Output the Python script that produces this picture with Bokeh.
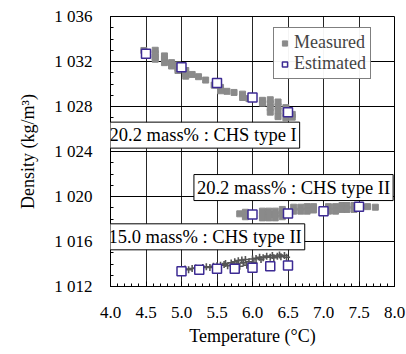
from bokeh.plotting import figure
from bokeh.models import FixedTicker, Label, Legend, LegendItem, Range1d, CustomJSTickFormatter
from bokeh.embed import file_html
from bokeh.resources import INLINE

# ---- data ----
x_ticks = [4.0, 4.5, 5.0, 5.5, 6.0, 6.5, 7.0, 7.5, 8.0]
y_ticks = [1012, 1016, 1020, 1024, 1028, 1032, 1036]
y_tick_labels = ["1 012", "1 016", "1 020", "1 024", "1 028", "1 032", "1 036"]

# 20.2 mass% CHS type I - measured
m1_x = [4.47, 4.49, 4.63, 4.63, 4.63, 4.63, 4.76, 4.76, 4.76, 4.86, 4.86, 4.95, 4.95, 4.95,
        5.06, 5.06, 5.06, 5.15, 5.24, 5.34, 5.46, 5.55, 5.55, 5.64, 5.74, 5.86, 5.86, 5.95,
        6.14, 6.14, 6.25, 6.25, 6.25, 6.25, 6.36, 6.36, 6.36, 6.36, 6.47, 6.47, 6.47, 6.56, 6.56]
m1_y = [1032.98, 1032.68, 1033.0, 1032.7, 1032.4, 1032.2, 1032.5, 1032.2, 1031.9, 1031.9, 1031.6,
        1031.7, 1031.4, 1031.2, 1031.2, 1030.9, 1030.7, 1030.85, 1030.65, 1030.35, 1029.9, 1029.7,
        1029.4, 1029.35, 1029.25, 1029.1, 1028.8, 1028.7, 1028.55, 1028.3, 1028.6, 1028.25, 1027.9,
        1027.5, 1028.4, 1028.0, 1027.6, 1027.1, 1027.9, 1027.4, 1027.0, 1027.3, 1027.05]
# 20.2 mass% CHS type I - estimated
e1_x = [4.5, 5.0, 5.5, 6.0, 6.5]
e1_y = [1032.7, 1031.5, 1030.1, 1028.8, 1027.5]

# 20.2 mass% CHS type II - measured
m2_x = [5.82, 5.90, 5.90, 6.14, 6.14, 6.14, 6.23, 6.23, 6.23, 6.32, 6.32, 6.32, 6.42, 6.42, 6.42,
        6.58, 6.58, 6.68, 6.68, 6.77, 6.77, 6.86, 6.86, 7.07, 7.07, 7.17, 7.17, 7.26, 7.26,
        7.33, 7.33, 7.43, 7.43, 7.62, 7.73]
m2_y = [1018.46, 1018.6, 1018.2, 1018.7, 1018.4, 1018.1, 1018.7, 1018.4, 1018.1, 1018.7, 1018.4,
        1018.1, 1018.85, 1018.5, 1018.2, 1019.05, 1018.7, 1019.05, 1018.7, 1019.1, 1018.7, 1019.1,
        1018.8, 1019.1, 1018.7, 1019.1, 1018.7, 1019.2, 1018.85, 1019.2, 1018.85, 1019.2, 1018.85,
        1019.1, 1019.05]
# 20.2 mass% CHS type II - estimated
e2_x = [6.0, 6.5, 7.0, 7.5]
e2_y = [1018.4, 1018.5, 1018.7, 1019.1]

# 15.0 mass% CHS type II - measured
m3_x = [5.0, 5.05, 5.1, 5.15, 5.2, 5.25, 5.3, 5.35, 5.4, 5.45, 5.5, 5.55, 5.6, 5.62, 5.65, 5.7,
        5.72, 5.75, 5.78, 5.8, 5.82, 5.85, 5.87, 5.9, 5.92, 5.95, 6.0, 6.02, 6.05, 6.1, 6.12,
        6.15, 6.2, 6.25, 6.28, 6.3, 6.35, 6.38, 6.4, 6.45, 6.48]
m3_y = [1013.5, 1013.55, 1013.5, 1013.6, 1013.65, 1013.6, 1013.7, 1013.75, 1013.7, 1013.8,
        1013.85, 1013.9, 1013.95, 1014.05, 1013.85, 1014.1, 1013.9, 1014.2, 1014.0, 1014.3,
        1013.8, 1014.35, 1014.1, 1014.4, 1013.9, 1014.2, 1014.45, 1014.1, 1014.5, 1014.6,
        1014.4, 1014.55, 1014.7, 1014.6, 1014.75, 1014.55, 1014.7, 1014.8, 1014.65, 1014.75, 1014.6]
# 15.0 mass% CHS type II - estimated
e3_x = [5.0, 5.25, 5.5, 5.75, 6.0, 6.25, 6.5]
e3_y = [1013.36, 1013.48, 1013.57, 1013.57, 1013.66, 1013.81, 1013.87]

labels = ["20.2 mass% : CHS type I", "20.2 mass% : CHS type II", "15.0 mass% : CHS type II"]
label_x = [3.945, 5.175, 3.93]
label_y = [1024.3, 1019.64, 1015.26]

FONT = "Liberation Serif"
EST_COLOR = "#3d2b94"

p = figure(width=406, height=348, output_backend="svg", toolbar_location=None,
           x_range=Range1d(4.0, 8.0), y_range=Range1d(1012, 1036),
           min_border_left=110, min_border_right=12, min_border_top=16, min_border_bottom=62)
p.outline_line_color = "black"
p.outline_line_width = 1
p.background_fill_color = "white"

p.xaxis.ticker = FixedTicker(ticks=x_ticks, minor_ticks=[4.0 + 0.1 * i for i in range(41)])
p.yaxis.ticker = FixedTicker(ticks=y_ticks, minor_ticks=list(range(1012, 1037)))
p.yaxis.major_label_overrides = {t: s for t, s in zip(y_ticks, y_tick_labels)}
p.xaxis.formatter = CustomJSTickFormatter(code="return tick.toFixed(1);")

for ax in (p.xaxis[0], p.yaxis[0]):
    ax.axis_line_color = "black"
    ax.major_tick_in = 5
    ax.major_tick_out = 0
    ax.minor_tick_in = 3
    ax.minor_tick_out = 0
    ax.major_tick_line_color = "black"
    ax.minor_tick_line_color = "black"
    ax.major_label_text_font = FONT
    ax.major_label_text_font_size = "17px"
    ax.major_label_text_color = "black"
    ax.axis_label_text_font = FONT
    ax.axis_label_text_font_size = "18px"
    ax.axis_label_text_font_style = "normal"
    ax.axis_label_text_color = "black"

p.xaxis.axis_label = "Temperature (°C)"
p.yaxis.axis_label = "Density (kg/m³)"
p.xaxis.major_label_standoff = 20
p.xaxis.axis_label_standoff = 5
p.yaxis.major_label_standoff = 18
p.yaxis.axis_label_standoff = 13

p.xgrid.grid_line_color = "black"
p.ygrid.grid_line_color = "black"
p.xgrid.grid_line_alpha = 0.85
p.ygrid.grid_line_alpha = 1.0

GRAY = "#8a8a8a"
r_m1 = p.scatter(m1_x, m1_y, marker="square", size=6, fill_color=GRAY, line_color=GRAY)
p.scatter(m2_x, m2_y, marker="square", size=6, fill_color=GRAY, line_color=GRAY)
p.scatter(m3_x, m3_y, marker="cross", size=7, line_color="#555555", line_width=1.6)

r_e1 = None
for ex, ey in ((e1_x, e1_y), (e2_x, e2_y), (e3_x, e3_y)):
    r = p.scatter(ex, ey, marker="square", size=9, fill_color="white",
                  line_color=EST_COLOR, line_width=1.5)
    if r_e1 is None:
        r_e1 = r

for t, lx, ly in zip(labels, label_x, label_y):
    p.add_layout(Label(x=lx, y=ly, text=t, text_font=FONT, text_font_size="18.5px",
                       text_color="black", border_line_color="black", border_line_width=1,
                       background_fill_color="white", padding=3))

legend = Legend(items=[LegendItem(label="Measured", renderers=[r_m1]),
                       LegendItem(label="Estimated", renderers=[r_e1])],
                location=(163, 207))
legend.label_text_font = FONT
legend.label_text_font_size = "18px"
legend.border_line_color = "black"
legend.border_line_width = 1
legend.glyph_width = 13
legend.glyph_height = 18
legend.label_height = 18
legend.label_standoff = 3
legend.padding = 4
legend.spacing = 0
legend.margin = 0
p.add_layout(legend, "center")

open("out.html", "w").write(file_html(p, INLINE))
